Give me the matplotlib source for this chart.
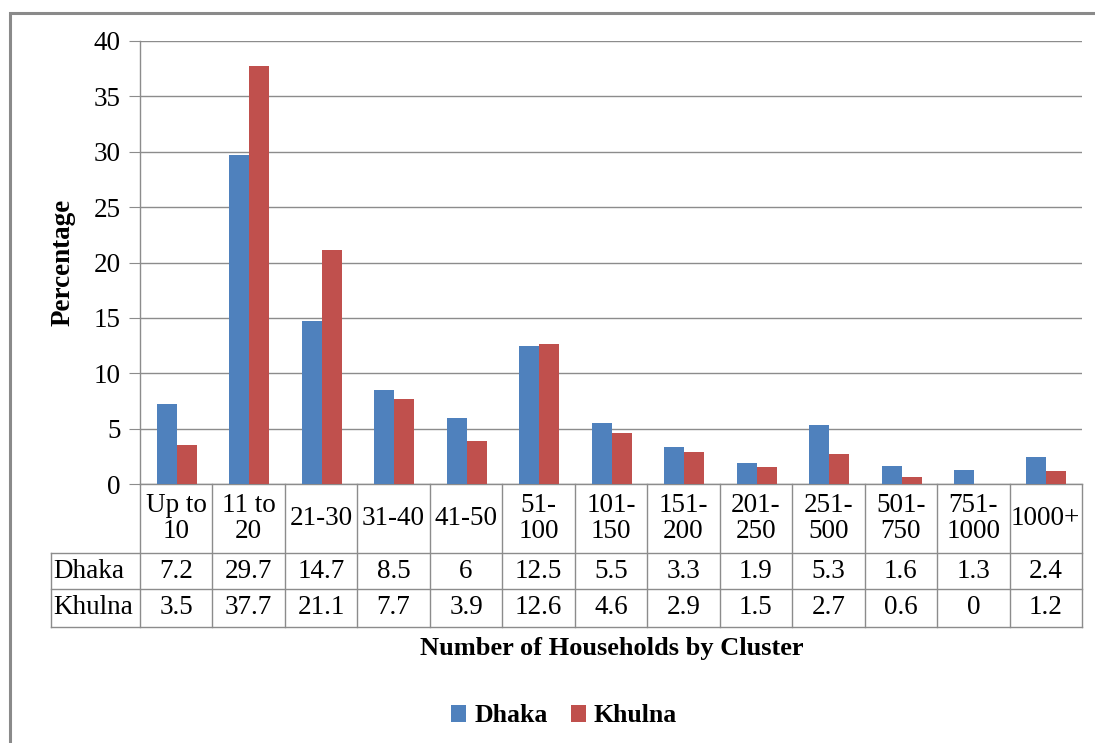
import matplotlib.pyplot as plt
import numpy as np
from matplotlib.patches import Rectangle
from matplotlib.lines import Line2D

categories = ['Up to\n10', '11 to\n20', '21-30', '31-40', '41-50', '51-\n100', '101-\n150',
              '151-\n200', '201-\n250', '251-\n500', '501-\n750', '751-\n1000', '1000+']
dhaka = [7.2, 29.7, 14.7, 8.5, 6, 12.5, 5.5, 3.3, 1.9, 5.3, 1.6, 1.3, 2.4]
khulna = [3.5, 37.7, 21.1, 7.7, 3.9, 12.6, 4.6, 2.9, 1.5, 2.7, 0.6, 0, 1.2]
series_names = ['Dhaka', 'Khulna']
y_ticks = [0, 5, 10, 15, 20, 25, 30, 35, 40]

BLUE = '#4F81BD'
RED = '#C0504D'
GRID = '#8C8C8C'
FONT = 'Liberation Serif'
FS = 19.5

plt.rcParams['font.family'] = [FONT, 'DejaVu Serif']

W, H = 1095, 743
fig = plt.figure(figsize=(W / 100, H / 100), dpi=100)

# outer chart frame (runs off the right and bottom edge)
fig.patches.append(Rectangle((10 / W, -0.1), 1.2, 1 - 13 / H + 0.1, transform=fig.transFigure,
                             fill=False, edgecolor='#8A8A8A', linewidth=2.2))

ax = fig.add_axes([140 / W, 1 - 484 / H, 942 / W, 443 / H])
x = np.arange(len(categories))
bw = 0.276
ax.bar(x - bw / 2 + 0.01, dhaka, bw, color=BLUE, label=series_names[0], zorder=3)
ax.bar(x + bw / 2 + 0.01, khulna, bw, color=RED, label=series_names[1], zorder=3)

ax.set_xlim(-0.5, len(categories) - 0.5)
ax.set_ylim(0, 40)
ax.set_yticks(y_ticks)
ax.set_yticklabels([str(t) for t in y_ticks], fontsize=FS)
ax.tick_params(axis='y', length=8, color=GRID, pad=6)
ax.set_xticks([])
ax.yaxis.grid(True, color=GRID, linewidth=1)
ax.set_axisbelow(True)
for side in ['top', 'right']:
    ax.spines[side].set_visible(False)
for side in ['left', 'bottom']:
    ax.spines[side].set_color(GRID)
    ax.spines[side].set_linewidth(1)

ax.set_ylabel('Percentage', fontsize=FS, fontweight='bold', labelpad=13)

# data table below the plot
tr = ax.get_xaxis_transform()
row_edges = [0, -0.1558, -0.237, -0.3228]
label_left = -0.5 - 89 / 72.46
right = len(categories) - 0.5
kw = dict(transform=tr, color=GRID, linewidth=1, clip_on=False)
for i in range(len(categories) + 1):
    ax.add_line(Line2D([i - 0.5, i - 0.5], [0, row_edges[-1]], **kw))
ax.add_line(Line2D([label_left, label_left], [row_edges[1], row_edges[-1]], **kw))
for yy in row_edges[1:]:
    ax.add_line(Line2D([label_left, right], [yy, yy], **kw))

for i, cat in enumerate(categories):
    ax.text(i, (row_edges[0] + row_edges[1]) / 2, cat, transform=tr, ha='center', va='center',
            fontsize=FS, linespacing=1.1)
for r, (name, vals) in enumerate(zip(series_names, [dhaka, khulna])):
    yc = (row_edges[r + 1] + row_edges[r + 2]) / 2
    ax.text(label_left + 0.03, yc, name, transform=tr, ha='left', va='center', fontsize=FS)
    for i, v in enumerate(vals):
        ax.text(i, yc, f'{v:g}', transform=tr, ha='center', va='center', fontsize=FS)

fig.text(612 / W, 1 - 648 / H, 'Number of Households by Cluster', ha='center', va='center',
         fontsize=19, fontweight='bold')

fig.legend(loc='center', bbox_to_anchor=(564 / W, 1 - 716 / H), ncol=2, frameon=False,
           prop={'family': FONT, 'size': 18.5, 'weight': 'bold'}, handlelength=0.6,
           handleheight=0.6, handletextpad=0.3, columnspacing=0.9)

fig.savefig('out.png', dpi=100)
